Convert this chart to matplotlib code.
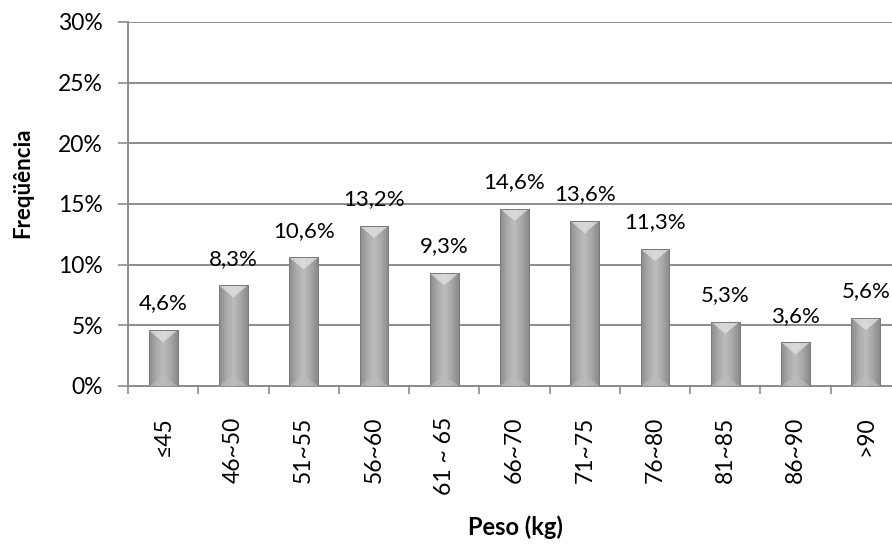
import matplotlib
matplotlib.use("Agg")
import matplotlib.pyplot as plt
import numpy as np
from matplotlib.colors import LinearSegmentedColormap

# --- data ---
categories = ["≤45", "46~50", "51~55", "56~60", "61 ~ 65", "66~70",
              "71~75", "76~80", "81~85", "86~90", ">90"]
freq = [4.6, 8.3, 10.6, 13.2, 9.3, 14.6, 13.6, 11.3, 5.3, 3.6, 5.6]
yticks = [0, 5, 10, 15, 20, 25, 30]

plt.rcParams["font.family"] = ["Lato", "DejaVu Sans"]

fig = plt.figure(figsize=(8.92, 5.47), dpi=100)
# plot area: x 128..901 px (cropped on the right), y 22..386 px
ax = fig.add_axes([128 / 892, 1 - 386 / 547, 773 / 892, 364 / 547])

x = np.arange(len(categories))
bars = ax.bar(x, freq, width=0.41, color="#a6a6a6", edgecolor="#7f7f7f",
              lw=0.6, zorder=3)

# cylinder-ish horizontal gradient on each bar
cmap = LinearSegmentedColormap.from_list(
    "bargrey", ["#8c8c8c", "#aaaaaa", "#bcbcbc", "#a8a8a8", "#8a8a8a"])
grad = np.linspace(0, 1, 64).reshape(1, -1)
for b in bars:
    x0, w, h = b.get_x(), b.get_width(), b.get_height()
    im = ax.imshow(grad, cmap=cmap, aspect="auto", extent=(x0, x0 + w, 0, h),
                   zorder=3.5)
    im.set_clip_path(b)
    # light top bevel and soft bottom bevel
    ax.fill([x0, x0 + w, x0 + w * 0.5], [h, h, h - 1.0], color="#e6e6e6",
            alpha=0.7, lw=0, zorder=3.6)
    ax.fill([x0, x0 + w, x0 + w * 0.5], [0, 0, 0.9], color="#bdbdbd",
            alpha=0.6, lw=0, zorder=3.6)
    ax.plot([x0, x0 + w, x0 + w, x0, x0], [0, 0, h, h, 0], color="#7a7a7a",
            lw=0.7, zorder=3.7)

for xi, v in zip(x, freq):
    ax.annotate(f"{v:.1f}%".replace(".", ","), xy=(xi, v), xytext=(0, 12),
                textcoords="offset points", ha="center", va="bottom",
                fontsize=16, color="#000000", zorder=5)

ax.set_xlim(-0.5, len(categories) - 0.5)
ax.set_ylim(0, 30)
ax.set_yticks(yticks)
ax.set_yticklabels([f"{t}%" for t in yticks], fontsize=16.5)
ax.set_xticks(x)
ax.set_xticklabels(categories, rotation=90, fontsize=16.5)
ax.set_xticks(np.arange(len(categories) + 1) - 0.5, minor=True)
ax.tick_params(axis="x", which="major", length=0, pad=22)
ax.tick_params(axis="x", which="minor", length=6, width=1.2, color="#8c8c8c")
ax.tick_params(axis="y", length=7, width=1.2, color="#8c8c8c", pad=11)

ax.grid(axis="y", color="#8c8c8c", lw=1.4, zorder=0)
ax.set_axisbelow(True)
for s in ["top", "right"]:
    ax.spines[s].set_visible(False)
for s in ["left", "bottom"]:
    ax.spines[s].set_color("#8c8c8c")
    ax.spines[s].set_linewidth(1.4)

fig.text(23 / 892, 1 - 183 / 547, "Freqüência", rotation=90, ha="center",
         va="center", fontsize=16, fontweight="bold")
fig.text(515 / 892, 1 - 527 / 547, "Peso (kg)", ha="center", va="center",
         fontsize=17, fontweight="bold")

fig.savefig("out.png", dpi=100)
